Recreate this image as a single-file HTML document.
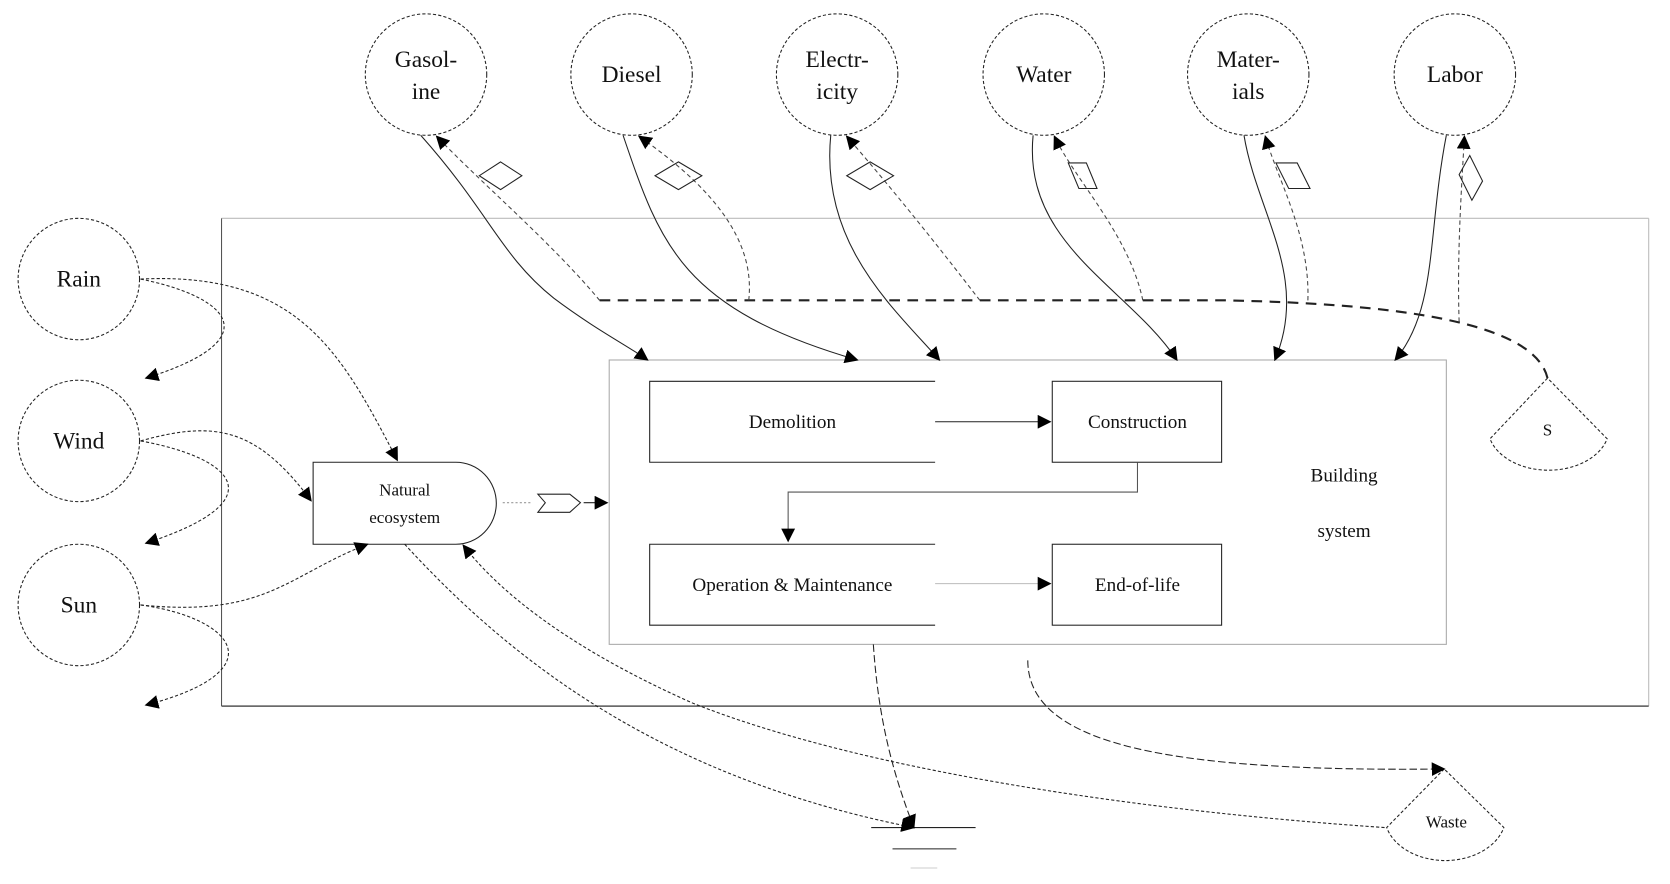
<!DOCTYPE html>
<html><head><meta charset="utf-8"><style>
html,body{margin:0;padding:0;background:#fff;}
svg{display:block;}
text{font-family:"Liberation Serif",serif;fill:#111;text-anchor:middle;}
</style></head><body>
<svg width="1670" height="884" viewBox="0 0 1568 830" preserveAspectRatio="none" xmlns="http://www.w3.org/2000/svg">
<defs>
<marker id="a" viewBox="0 0 10 10" refX="9" refY="5" markerWidth="9" markerHeight="9" orient="auto" markerUnits="userSpaceOnUse"><path d="M0,0 L10,5 L0,10 z" fill="#000"/></marker>
<marker id="b" viewBox="0 0 10 10" refX="9" refY="5" markerWidth="13" markerHeight="13" orient="auto" markerUnits="userSpaceOnUse"><path d="M0,0 L10,5 L0,10 z" fill="#000"/></marker>
</defs>
<g fill="none" stroke="#222" stroke-width="1">
<!-- outer frame -->
<line x1="208" y1="205" x2="1548" y2="205" stroke="#bbb"/>
<line x1="1548" y1="205" x2="1548" y2="663" stroke="#bbb"/>
<line x1="208" y1="205" x2="208" y2="663" stroke="#555"/>
<line x1="208" y1="663" x2="1548" y2="663" stroke="#555" stroke-width="1.5"/>
<!-- building box -->
<rect x="572" y="338" width="786" height="267" stroke="#aaa"/>
<path d="M878,358 H610 V434 H878"/>
<rect x="988" y="358" width="159" height="76"/>
<path d="M878,511 H610 V587 H878"/>
<rect x="988" y="511" width="159" height="76"/>
<line x1="878" y1="396" x2="986" y2="396" marker-end="url(#b)"/>
<line x1="878" y1="548" x2="986" y2="548" stroke="#bbb" marker-end="url(#b)"/>
<path d="M1068,434 V462 H740 V508" stroke="#555" marker-end="url(#b)"/>
<!-- top circles -->
<g stroke-dasharray="3,2">
<circle cx="400" cy="70" r="57"/><circle cx="593" cy="70" r="57"/><circle cx="786" cy="70" r="57"/>
<circle cx="980" cy="70" r="57"/><circle cx="1172" cy="70" r="57"/><circle cx="1366" cy="70" r="57"/>
<circle cx="74" cy="262" r="57"/><circle cx="74" cy="414" r="57"/><circle cx="74" cy="568" r="57"/>
</g>
<!-- natural ecosystem -->
<path d="M294,434 H428 A38,38.5 0 0 1 428,511 H294 Z"/>
<path d="M505,464 H535 L545,472 L535,481 H505 L512,472 Z"/>
<line x1="472" y1="472" x2="500" y2="472" stroke-dasharray="2,2" stroke="#999"/>
<line x1="548" y1="472" x2="570" y2="472" marker-end="url(#b)"/>
<!-- S tank -->
<path d="M1453,355 L1399,412 A57,40 0 0 0 1509,412 Z" stroke-dasharray="3,2"/>
<!-- Waste -->
<path d="M1356,722 L1302,777 A57,42 0 0 0 1412,777 Z" stroke-dasharray="3,2"/>
<!-- ground -->
<line x1="818" y1="777" x2="916" y2="777"/>
<line x1="838" y1="797" x2="898" y2="797"/>
<line x1="855" y1="815" x2="880" y2="815" stroke="#ccc"/>
<!-- thick dashed line -->
<path d="M563,282 H1150 C1300,285 1440,300 1453,355" stroke-width="2" stroke-dasharray="10,7"/>
<!-- solid curves top -->
<path d="M395,127 C460,200 470,240 520,280 C560,310 590,325 608,338" marker-end="url(#b)"/>
<path d="M585,127 C620,230 640,290 805,338" marker-end="url(#b)"/>
<path d="M780,127 C770,230 840,290 882,338" marker-end="url(#b)"/>
<path d="M970,127 C960,230 1060,270 1105,338" marker-end="url(#b)"/>
<path d="M1168,127 C1180,200 1230,260 1197,338" marker-end="url(#b)"/>
<path d="M1358,127 C1340,220 1350,290 1310,338" marker-end="url(#b)"/>
<!-- dashed returns -->
<g stroke-dasharray="4,3" stroke="#444">
<path d="M563,282 C520,230 450,170 410,128" marker-end="url(#b)"/>
<path d="M703,282 C710,220 660,170 600,128" marker-end="url(#b)"/>
<path d="M920,282 C880,230 840,180 795,128" marker-end="url(#b)"/>
<path d="M1073,282 C1060,220 1010,170 990,128" marker-end="url(#b)"/>
<path d="M1228,282 C1230,220 1200,170 1188,128" marker-end="url(#b)"/>
<path d="M1370,302 C1368,240 1372,180 1375,128" marker-end="url(#b)"/>
</g>
<!-- diamonds -->
<path d="M470,152 L490,165 L470,178 L450,165 Z"/>
<path d="M637,152 L659,165 L637,178 L615,165 Z"/>
<path d="M817,152 L839,165 L817,178 L795,165 Z"/>
<path d="M1003,153 L1020,153 L1030,177 L1013,177 Z"/>
<path d="M1198,153 L1218,153 L1230,177 L1210,177 Z"/>
<path d="M1380,146 L1392,170 L1382,188 L1370,164 Z"/>
<!-- left source curves -->
<g stroke-dasharray="3,2">
<path d="M132,262 C280,255 320,330 373,432" marker-end="url(#b)"/>
<path d="M132,262 C220,280 250,320 137,355" marker-end="url(#b)"/>
<path d="M132,414 C200,395 240,400 292,470" marker-end="url(#b)"/>
<path d="M132,414 C220,430 260,470 137,510" marker-end="url(#b)"/>
<path d="M132,568 C250,580 270,540 345,511" marker-end="url(#b)"/>
<path d="M132,568 C220,580 260,630 137,662" marker-end="url(#b)"/>
<path d="M380,511 C480,620 620,730 858,777" marker-end="url(#b)"/>
<path d="M1300,777 C1050,760 800,720 650,660 C560,620 480,570 435,512" marker-end="url(#b)"/>
<path d="M820,605 C825,680 840,730 858,777" stroke-dasharray="7,3" marker-end="url(#b)"/>
<path d="M965,620 C965,700 1100,725 1356,722" stroke-dasharray="7,3" marker-end="url(#b)"/>
</g>
</g>
<g font-size="22">
<text x="400" y="63">Gasol-</text><text x="400" y="93">ine</text>
<text x="593" y="77">Diesel</text>
<text x="786" y="63">Electr-</text><text x="786" y="93">icity</text>
<text x="980" y="77">Water</text>
<text x="1172" y="63">Mater-</text><text x="1172" y="93">ials</text>
<text x="1366" y="77">Labor</text>
<text x="74" y="269">Rain</text><text x="74" y="421">Wind</text><text x="74" y="575">Sun</text>
</g>
<g font-size="18">
<text x="744" y="402">Demolition</text>
<text x="1068" y="402">Construction</text>
<text x="744" y="555">Operation &amp; Maintenance</text>
<text x="1068" y="555">End-of-life</text>
<text x="1262" y="452">Building</text>
<text x="1262" y="504">system</text>
</g>
<g font-size="16">
<text x="380" y="465">Natural</text><text x="380" y="491">ecosystem</text>
<text x="1453" y="409">S</text>
<text x="1358" y="777">Waste</text>
</g>
</svg>
</body></html>
